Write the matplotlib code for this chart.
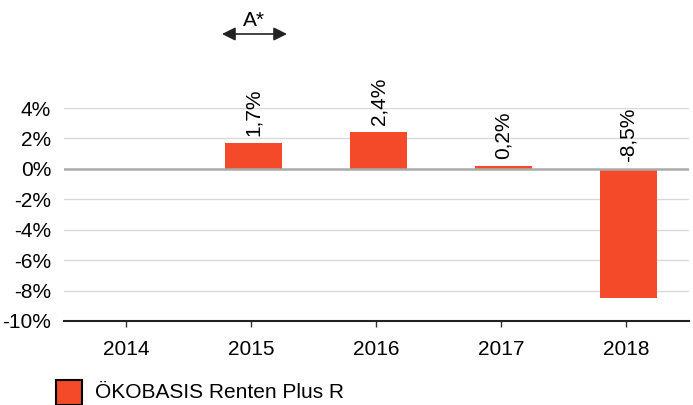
import matplotlib
matplotlib.use("Agg")
import matplotlib.pyplot as plt
from matplotlib.patches import Rectangle, FancyArrowPatch

plt.rcParams['font.family'] = ['Liberation Sans', 'DejaVu Sans']

years = ["2014", "2015", "2016", "2017", "2018"]
values = [None, 1.7, 2.4, 0.2, -8.5]
labels = ["", "1,7%", "2,4%", "0,2%", "-8,5%"]
yticks = [4, 2, 0, -2, -4, -6, -8, -10]
series_name = "ÖKOBASIS Renten Plus R"
bar_color = "#F44A2A"
FS = 15

W, H = 693, 405
fig = plt.figure(figsize=(W / 100, H / 100), dpi=100)
ax = fig.add_axes([63.5 / W, (H - 321) / H, (688.5 - 63.5) / W, (321 - 108) / H])

xs = list(range(len(years)))
for x, v, lab in zip(xs, values, labels):
    if v is None:
        continue
    ax.bar(x + 0.02, v, width=0.46, color=bar_color, zorder=3)
    top = max(v, 0)
    ax.annotate(lab, (x + 0.02, top), xytext=(0, 5), textcoords="offset points",
                rotation=90, ha="center", va="bottom", fontsize=FS,
                color="black", zorder=4)

ax.set_xlim(-0.5, len(years) - 0.5)
ax.set_ylim(-10, 4)
ax.set_yticks(yticks)
ax.set_yticklabels([f"{t}%" for t in yticks], fontsize=FS)
ax.set_xticks(xs)
ax.set_xticklabels(years, fontsize=FS)
ax.tick_params(axis="y", length=0, pad=9)
ax.tick_params(axis="x", length=4, width=1, direction="out", pad=10, color="#333333")

for t in yticks:
    if t == -10:
        continue
    if t == 0:
        ax.axhline(t, color="#aaaaaa", lw=1.8, zorder=5)
    else:
        ax.axhline(t, color="#d9d9d9", lw=1, zorder=1)

for s in ["top", "right", "left"]:
    ax.spines[s].set_visible(False)
ax.spines["bottom"].set_color("#222222")
ax.spines["bottom"].set_linewidth(1.5)

# A* marker
fig.text(254 / W, 1 - 20 / H, "A*", ha="center", va="center", fontsize=FS)
fig.add_artist(FancyArrowPatch(
    (222 / W, 1 - 34 / H), (287 / W, 1 - 34 / H), transform=fig.transFigure,
    arrowstyle="<|-|>,head_length=5,head_width=2.5", color="#222222", lw=1.2,
    mutation_scale=1.6, shrinkA=0, shrinkB=0))

# legend
fig.add_artist(Rectangle((56 / W, 0), 26 / W, 25 / H, transform=fig.transFigure,
                         facecolor=bar_color, edgecolor="black", lw=1.5))
fig.text(95 / W, 1 - 392 / H, series_name, ha="left", va="center", fontsize=FS)

fig.savefig("out.png", dpi=100)
